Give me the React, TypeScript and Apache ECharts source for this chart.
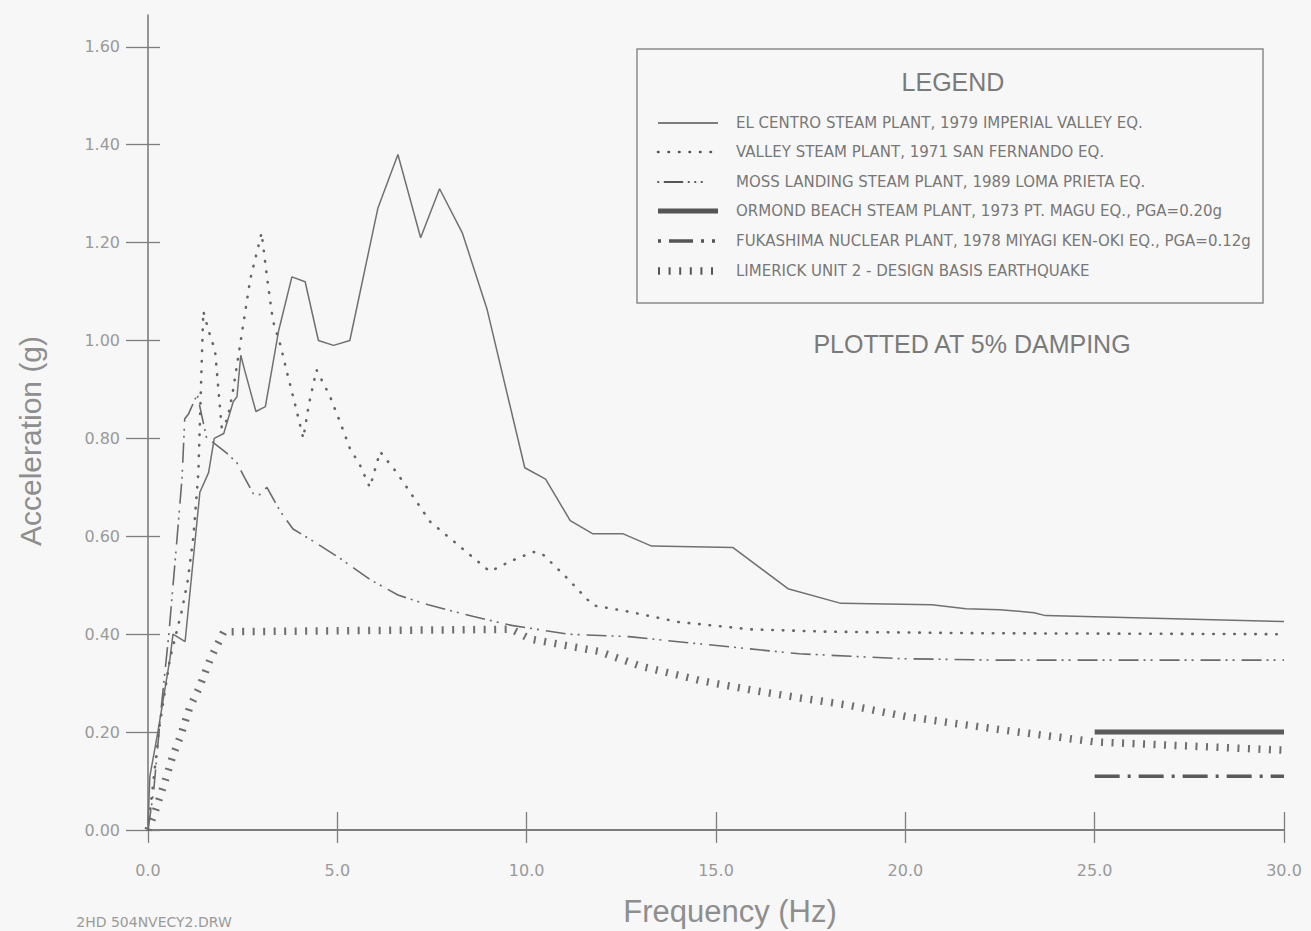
import React, { useEffect, useRef } from "react";
import * as echarts from "echarts";

// ---------- data ----------
const xTicks = [0, 5, 10, 15, 20, 25, 30];
const yTicks = [0, 0.2, 0.4, 0.6, 0.8, 1.0, 1.2, 1.4, 1.6];

const seriesNames = [
  "EL CENTRO STEAM PLANT, 1979 IMPERIAL VALLEY EQ.",
  "VALLEY STEAM PLANT, 1971 SAN FERNANDO EQ.",
  "MOSS LANDING STEAM PLANT, 1989 LOMA PRIETA EQ.",
  "ORMOND BEACH STEAM PLANT, 1973 PT. MAGU EQ., PGA=0.20g",
  "FUKASHIMA NUCLEAR PLANT, 1978 MIYAGI KEN-OKI EQ., PGA=0.12g",
  "LIMERICK UNIT 2 - DESIGN BASIS EARTHQUAKE",
];

const elCentroHz = [0, 0.05, 0.26, 0.58, 0.66, 0.98, 1.37, 1.6, 1.75, 2.0, 2.25, 2.35, 2.45, 2.55, 2.85, 3.1, 3.45, 3.8, 4.15, 4.5, 4.9, 5.33, 6.07, 6.6, 7.2, 7.7, 8.3, 8.95, 9.95, 10.5, 11.15, 11.75, 12.55, 13.3, 15.45, 16.9, 18.3, 20.7, 21.6, 22.5, 23.4, 23.7, 30];
const elCentroG = [0.01, 0.11, 0.2, 0.35, 0.4, 0.385, 0.69, 0.73, 0.8, 0.81, 0.875, 0.885, 0.97, 0.94, 0.855, 0.865, 1.02, 1.13, 1.12, 1.0, 0.99, 1.0, 1.27, 1.38, 1.21, 1.31, 1.22, 1.065, 0.74, 0.717, 0.632, 0.605, 0.605, 0.58, 0.577, 0.493, 0.463, 0.46, 0.452, 0.45, 0.444, 0.438, 0.426];

const valleyHz = [0, 0.3, 0.58, 0.9, 1.05, 1.2, 1.33, 1.46, 1.6, 1.77, 1.95, 2.1, 2.25, 2.43, 2.7, 3.0, 3.15, 3.3, 3.5, 3.67, 3.93, 4.1, 4.25, 4.45, 4.8, 5.07, 5.33, 5.6, 5.86, 6.13, 6.57, 7.45, 8.3, 9.03, 9.6, 10.17, 10.4, 11.0, 11.75, 12.7, 14.0, 15.9, 18.0, 22.0, 30];
const valleyG = [0, 0.21, 0.35, 0.45, 0.51, 0.6, 0.73, 1.06, 1.02, 0.98, 0.82, 0.84, 0.9, 0.99, 1.125, 1.22, 1.125, 1.04, 0.99, 0.935, 0.855, 0.8, 0.87, 0.94, 0.887, 0.834, 0.78, 0.745, 0.7, 0.773, 0.73, 0.63, 0.575, 0.528, 0.55, 0.568, 0.565, 0.52, 0.459, 0.446, 0.425, 0.41, 0.405, 0.402, 0.4];

const mossHz = [0, 0.15, 0.35, 0.55, 0.75, 0.9, 0.97, 1.07, 1.3, 1.55, 1.75, 2.08, 2.35, 2.55, 2.78, 2.95, 3.14, 3.5, 3.83, 4.36, 5.07, 5.9, 6.6, 7.4, 8.6, 9.6, 11.1, 12.7, 14.6, 17.2, 19.9, 22.5, 30];
const mossG = [0, 0.08, 0.25, 0.4, 0.58, 0.72, 0.84, 0.85, 0.89, 0.8, 0.79, 0.77, 0.75, 0.72, 0.687, 0.685, 0.7, 0.65, 0.615, 0.59, 0.555, 0.51, 0.48, 0.46, 0.436, 0.418, 0.4, 0.395, 0.38, 0.36, 0.35, 0.347, 0.347];

const ormondHz = [25, 30];
const ormondG = [0.2, 0.2];

const fukashimaHz = [25, 30];
const fukashimaG = [0.11, 0.11];

const limerickHz = [0, 0.2, 0.45, 0.65, 0.85, 1.1, 1.35, 1.65, 2.0, 9.6, 10.1, 11.9, 13.0, 14.6, 16.0, 17.2, 18.5, 20.0, 22.5, 25.0, 30];
const limerickG = [0, 0.04, 0.1, 0.15, 0.19, 0.25, 0.29, 0.35, 0.405, 0.41, 0.39, 0.365, 0.335, 0.305, 0.285, 0.27, 0.255, 0.232, 0.205, 0.18, 0.163];

// ---------- styles ----------
const GRAY = "#8e8e8e";

const lineStyles: any[] = [
  { color: "#707070", width: 1.5, type: "solid" },
  { color: "#666666", width: 2.6, type: [0.5, 10], cap: "round" },
  { color: "#6a6a6a", width: 1.6, type: [20, 5, 2, 5, 2, 7] },
  { color: "#5a5a5a", width: 5, type: "solid" },
  { color: "#5a5a5a", width: 3.5, type: [25, 8, 3, 8] },
  { color: "#6e6e6e", width: 7.5, type: [2, 8.5], cap: "butt" },
];

const legendDash: any[] = [
  null,
  [0.5, 10],
  [0.5, 6, 18, 6, 0.5, 6, 0.5, 6, 0.5, 30],
  null,
  [3, 8, 24, 8, 3, 8, 3, 30],
  [2, 8.6],
];

const pairs = (xs: number[], ys: number[]) => xs.map((x, i) => [x, ys[i]]);

export default function App() {
  const ref = useRef<HTMLDivElement>(null);

  useEffect(() => {
    document.body.style.margin = "0";
    const chart = echarts.init(ref.current!, null, { renderer: "svg" });

    const dataSets = [
      pairs(elCentroHz, elCentroG),
      pairs(valleyHz, valleyG),
      pairs(mossHz, mossG),
      pairs(ormondHz, ormondG),
      pairs(fukashimaHz, fukashimaG),
      pairs(limerickHz, limerickG),
    ];

    const series = dataSets.map((d, i) => ({
      name: seriesNames[i],
      type: "line",
      data: d,
      symbol: "none",
      silent: true,
      xAxisIndex: 0,
      yAxisIndex: 0,
      lineStyle: lineStyles[i],
      z: 3,
    }));

    const legendY = [123, 152, 182, 211, 241, 271];
    const legendGraphics: any[] = [];
    legendGraphics.push({
      type: "rect",
      shape: { x: 637, y: 49, width: 626, height: 254 },
      style: { fill: "none", stroke: "#8a8a8a", lineWidth: 1.5 },
    });
    legendGraphics.push({
      type: "text",
      x: 953,
      y: 82,
      style: {
        text: "LEGEND",
        fill: "#7a7a7a",
        fontSize: 25,
        fontFamily: "Liberation Sans",
        textAlign: "center",
        textVerticalAlign: "middle",
      },
    });
    seriesNames.forEach((name, i) => {
      const ls = lineStyles[i];
      legendGraphics.push({
        type: "line",
        shape: { x1: 658, y1: legendY[i], x2: 718, y2: legendY[i] },
        style: {
          stroke: "#555555",
          lineWidth: i === 0 ? 1.3 : i === 2 ? 1.8 : ls.width,
          lineDash: legendDash[i] || undefined,
          lineCap: i === 1 || i === 2 ? "round" : "butt",
        },
      });
      legendGraphics.push({
        type: "text",
        x: 736,
        y: legendY[i],
        style: {
          text: name,
          fill: "#777777",
          fontSize: 15,
          fontFamily: "DejaVu Sans",
          textAlign: "left",
          textVerticalAlign: "middle",
        },
      });
    });

    const option: any = {
      animation: false,
      backgroundColor: "#f7f7f7",
      grid: { left: 148, right: 27, top: 15, bottom: 101, containLabel: false },
      xAxis: [
        {
          type: "value",
          min: 0,
          max: 30,
          interval: 5,
          position: "bottom",
          axisLine: { show: true, lineStyle: { color: "#7d7d7d", width: 2 } },
          axisTick: { show: true, inside: false, length: 13, customValues: xTicks, lineStyle: { color: "#7d7d7d", width: 1.3 } },
          axisLabel: {
            show: true,
            margin: 32,
            color: "#9a9a9a",
            fontSize: 16,
            fontFamily: "DejaVu Sans",
            customValues: xTicks,
            formatter: (v: number) => v.toFixed(1),
          },
          splitLine: { show: false },
        },
        {
          type: "value",
          min: 0,
          max: 30,
          interval: 5,
          position: "bottom",
          axisLine: { show: false },
          axisTick: { show: true, inside: true, length: 18, customValues: xTicks, lineStyle: { color: "#7d7d7d", width: 1.3 } },
          axisLabel: { show: false },
          splitLine: { show: false },
        },
      ],
      yAxis: [
        {
          type: "value",
          min: 0,
          max: 1.665,
          position: "left",
          axisLine: { show: true, lineStyle: { color: "#7d7d7d", width: 1.6 } },
          axisTick: { show: true, inside: false, length: 22, customValues: yTicks, lineStyle: { color: "#7d7d7d", width: 1.3 } },
          axisLabel: {
            show: true,
            margin: 28,
            color: "#9a9a9a",
            fontSize: 16,
            fontFamily: "DejaVu Sans",
            customValues: yTicks,
            formatter: (v: number) => v.toFixed(2),
          },
          splitLine: { show: false },
        },
        {
          type: "value",
          min: 0,
          max: 1.665,
          position: "left",
          axisLine: { show: false },
          axisTick: { show: true, inside: true, length: 12, customValues: yTicks, lineStyle: { color: "#7d7d7d", width: 1.3 } },
          axisLabel: { show: false },
          splitLine: { show: false },
        },
      ],
      series,
      graphic: [
        ...legendGraphics,
        {
          type: "text",
          x: 972,
          y: 344,
          style: {
            text: "PLOTTED AT 5% DAMPING",
            fill: "#7a7a7a",
            fontSize: 25,
            fontFamily: "Liberation Sans",
            textAlign: "center",
            textVerticalAlign: "middle",
          },
        },
        {
          type: "text",
          x: 30,
          y: 441,
          rotation: Math.PI / 2,
          style: {
            text: "Acceleration (g)",
            fill: GRAY,
            fontSize: 30,
            fontFamily: "Liberation Sans",
            textAlign: "center",
            textVerticalAlign: "middle",
          },
        },
        {
          type: "text",
          x: 730,
          y: 911,
          style: {
            text: "Frequency (Hz)",
            fill: GRAY,
            fontSize: 31,
            fontFamily: "Liberation Sans",
            textAlign: "center",
            textVerticalAlign: "middle",
          },
        },
        {
          type: "text",
          x: 154,
          y: 922,
          style: {
            text: "2HD 504NVECY2.DRW",
            fill: "#9a9a9a",
            fontSize: 14,
            fontFamily: "DejaVu Sans",
            textAlign: "center",
            textVerticalAlign: "middle",
          },
        },
      ],
    };

    chart.setOption(option);
    return () => chart.dispose();
  }, []);

  return <div ref={ref} style={{ width: 1311, height: 931 }} />;
}
